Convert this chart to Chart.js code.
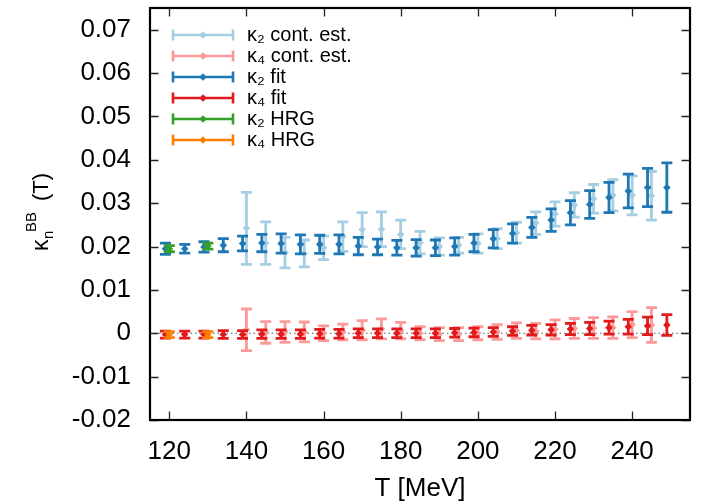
<!DOCTYPE html>
<html>
<head>
<meta charset="utf-8">
<script src="https://cdn.jsdelivr.net/npm/chart.js@4.4.1/dist/chart.umd.min.js"></script>
<style>
  html, body { margin: 0; padding: 0; background: #ffffff; }
  #wrap { width: 708px; height: 502px; }
</style>
</head>
<body>
<div id="wrap"><canvas id="c" width="708" height="502"></canvas></div>
<script>
// ---------------- data ----------------
const seriesLabels = ['κ₂ cont. est.', 'κ₄ cont. est.', 'κ₂ fit', 'κ₄ fit', 'κ₂ HRG', 'κ₄ HRG'];

const T_cont = [140, 145, 150, 155, 160, 165, 170, 175, 180, 185, 190, 195, 200, 205, 210, 215, 220, 225, 230, 235, 240, 245];
const k2Cont = [0.0242, 0.0208, 0.0186, 0.0184, 0.0197, 0.0223, 0.0239, 0.0240, 0.0228, 0.0209, 0.0200, 0.0203, 0.0207, 0.0218, 0.0232, 0.0254, 0.0275, 0.0296, 0.0310, 0.0318, 0.0318, 0.0317];
const k2ContErr = [0.0083, 0.0049, 0.0035, 0.0031, 0.0027, 0.0034, 0.0039, 0.0040, 0.0033, 0.0026, 0.0020, 0.0018, 0.0022, 0.0023, 0.0024, 0.0026, 0.0028, 0.0028, 0.0033, 0.0036, 0.0045, 0.0056];
const k4Cont = [0.0008, 0.0002, 0.0003, 0.0003, 0.0000, 0.0003, 0.0007, 0.0010, 0.0006, 0.0000, -0.0002, -0.0002, 0.0000, 0.0003, 0.0006, 0.0005, 0.0009, 0.0011, 0.0012, 0.0013, 0.0020, 0.0019];
const k4ContErr = [0.0048, 0.0025, 0.0024, 0.0023, 0.0017, 0.0018, 0.0022, 0.0023, 0.0019, 0.0015, 0.0015, 0.0015, 0.0015, 0.0017, 0.0018, 0.0018, 0.0022, 0.0023, 0.0024, 0.0025, 0.0030, 0.0040];

const T_fit = [119, 124, 129, 134, 139, 144, 149, 154, 159, 164, 169, 174, 179, 184, 189, 194, 199, 204, 209, 214, 219, 224, 229, 234, 239, 244, 249];
const k2Fit = [0.0195, 0.0195, 0.0199, 0.0203, 0.0207, 0.0208, 0.0207, 0.0205, 0.0205, 0.0205, 0.0201, 0.0199, 0.0197, 0.0197, 0.0197, 0.0200, 0.0208, 0.0218, 0.0230, 0.0244, 0.0261, 0.0278, 0.0297, 0.0313, 0.0328, 0.0336, 0.0336];
const k2FitErr = [0.0013, 0.0010, 0.0012, 0.0015, 0.0017, 0.0020, 0.0022, 0.0022, 0.0021, 0.0022, 0.0020, 0.0018, 0.0017, 0.0019, 0.0018, 0.0020, 0.0020, 0.0021, 0.0022, 0.0023, 0.0026, 0.0028, 0.0032, 0.0035, 0.0039, 0.0044, 0.0057];
const k4Fit = [-0.0003, -0.0003, -0.0003, -0.0003, -0.0003, -0.0002, -0.0002, -0.0002, -0.0001, -0.0001, 0.0000, 0.0000, 0.0000, 0.0000, 0.0000, 0.0001, 0.0002, 0.0003, 0.0005, 0.0007, 0.0008, 0.0010, 0.0011, 0.0013, 0.0015, 0.0017, 0.0019];
const k4FitErr = [0.0008, 0.0008, 0.0008, 0.0009, 0.0009, 0.0010, 0.0010, 0.0010, 0.0010, 0.0010, 0.0010, 0.0010, 0.0010, 0.0010, 0.0010, 0.0010, 0.0010, 0.0010, 0.0010, 0.0011, 0.0012, 0.0013, 0.0014, 0.0015, 0.0017, 0.0020, 0.0024];

const T_hrg = [120, 130];
const k2Hrg = [0.0195, 0.0201];
const k2HrgErr = [0.0007, 0.0007];
const k4Hrg = [-0.0003, -0.0003];
const k4HrgErr = [0.0007, 0.0007];

const xTickValues = [120, 140, 160, 180, 200, 220, 240];
const yTickValues = [-0.02, -0.01, 0, 0.01, 0.02, 0.03, 0.04, 0.05, 0.06, 0.07];
const yTickLabels = ['-0.02', '-0.01', '0', '0.01', '0.02', '0.03', '0.04', '0.05', '0.06', '0.07'];

// ---------------- styling ----------------
const COLORS = ['#a6cee3', '#fb9a99', '#1f78b4', '#e31a1c', '#33a02c', '#ff7f00'];
const FONT = "'Liberation Sans', Arial, Helvetica, sans-serif";
Chart.defaults.font.family = FONT;
Chart.defaults.color = '#000';

function pts(xs, ys) { return xs.map((x, i) => ({ x: x, y: ys[i] })); }

function makeDataset(idx, xs, ys, errs, order) {
  return {
    label: seriesLabels[idx],
    data: pts(xs, ys),
    errors: errs,
    barColor: COLORS[idx],
    showLine: false,
    pointStyle: 'rectRot',
    pointRadius: 3.8,
    pointHoverRadius: 3.8,
    pointBorderWidth: 0,
    backgroundColor: COLORS[idx],
    borderColor: COLORS[idx],
    order: order
  };
}

// legend symbol: error bar with a diamond
function legendSymbol(color) {
  const c = document.createElement('canvas');
  c.width = 74; c.height = 14;
  const g = c.getContext('2d');
  g.strokeStyle = color; g.fillStyle = color; g.lineWidth = 2.6;
  g.beginPath();
  g.moveTo(10, 7); g.lineTo(70, 7);
  g.moveTo(10, 1.5); g.lineTo(10, 12.5);
  g.moveTo(70, 1.5); g.lineTo(70, 12.5);
  g.stroke();
  g.beginPath();
  g.moveTo(40, 3.2); g.lineTo(43.8, 7); g.lineTo(40, 10.8); g.lineTo(36.2, 7); g.closePath();
  g.fill();
  return c;
}

// ---------------- plugins ----------------
const errorBars = {
  id: 'errorBars',
  beforeDatasetDraw(chart, args) {
    const ds = chart.data.datasets[args.index];
    if (!ds.errors) return;
    const xs = chart.scales.x, ys = chart.scales.y, ctx = chart.ctx, a = chart.chartArea;
    ctx.save();
    ctx.beginPath(); ctx.rect(a.left, a.top, a.right - a.left, a.bottom - a.top); ctx.clip();
    ctx.strokeStyle = ds.barColor; ctx.lineWidth = 2.8; ctx.lineCap = 'butt';
    ds.data.forEach((p, i) => {
      const px = xs.getPixelForValue(p.x);
      const y1 = ys.getPixelForValue(p.y - ds.errors[i]);
      const y2 = ys.getPixelForValue(p.y + ds.errors[i]);
      ctx.beginPath();
      ctx.moveTo(px, y1); ctx.lineTo(px, y2);
      ctx.moveTo(px - 5.5, y1); ctx.lineTo(px + 5.5, y1);
      ctx.moveTo(px - 5.5, y2); ctx.lineTo(px + 5.5, y2);
      ctx.stroke();
    });
    ctx.restore();
  }
};

const frameAndTicks = {
  id: 'frameAndTicks',
  beforeDatasetsDraw(chart) {
    const ctx = chart.ctx, a = chart.chartArea, ys = chart.scales.y;
    const y0 = ys.getPixelForValue(0);
    ctx.save();
    ctx.strokeStyle = '#555'; ctx.lineWidth = 1.2; ctx.setLineDash([1.5, 3]);
    ctx.beginPath(); ctx.moveTo(a.left, y0); ctx.lineTo(a.right, y0); ctx.stroke();
    ctx.restore();
  },
  afterDraw(chart) {
    const ctx = chart.ctx, a = chart.chartArea, xs = chart.scales.x, ys = chart.scales.y;
    const L = 8.5;
    ctx.save();
    ctx.strokeStyle = '#222'; ctx.lineWidth = 1.3;
    ctx.beginPath();
    xTickValues.forEach(v => {
      const px = Math.round(xs.getPixelForValue(v)) + 0.5;
      ctx.moveTo(px, a.bottom); ctx.lineTo(px, a.bottom - L);
      ctx.moveTo(px, a.top); ctx.lineTo(px, a.top + L);
    });
    yTickValues.forEach(v => {
      const py = Math.round(ys.getPixelForValue(v)) + 0.5;
      ctx.moveTo(a.left, py); ctx.lineTo(a.left + L, py);
      ctx.moveTo(a.right, py); ctx.lineTo(a.right - L, py);
    });
    ctx.stroke();
    ctx.strokeStyle = '#000'; ctx.lineWidth = 2.2;
    ctx.strokeRect(a.left, a.top, a.right - a.left, a.bottom - a.top);
    ctx.restore();

    // y-axis title: kappa_n^{BB}(T)
    ctx.save();
    ctx.translate(48, 251);
    ctx.rotate(-Math.PI / 2);
    ctx.fillStyle = '#000';
    ctx.textBaseline = 'alphabetic';
    ctx.textAlign = 'left';
    ctx.font = "23px " + FONT;
    ctx.fillText('κ', 0, 0);
    ctx.font = "15px " + FONT;
    ctx.fillText('n', 12, 5);
    ctx.font = "15px " + FONT;
    ctx.fillText('BB', 19, -12);
    ctx.font = "22px " + FONT;
    ctx.fillText('(T)', 50, 0);
    ctx.restore();
  }
};

const legendPlacer = {
  id: 'legendPlacer',
  afterLayout(chart) {
    const lg = chart.legend;
    if (!lg) return;
    lg.left = chart.chartArea.left + 12;
    lg.top = chart.chartArea.top + 16;
    lg.bottom = chart.chartArea.bottom;
    lg.right = chart.chartArea.right;
  }
};

// ---------------- chart ----------------
const datasets = [
  makeDataset(0, T_cont, k2Cont, k2ContErr, 3),
  makeDataset(1, T_cont, k4Cont, k4ContErr, 3),
  makeDataset(2, T_fit, k2Fit, k2FitErr, 2),
  makeDataset(3, T_fit, k4Fit, k4FitErr, 2),
  makeDataset(4, T_hrg, k2Hrg, k2HrgErr, 1),
  makeDataset(5, T_hrg, k4Hrg, k4HrgErr, 1)
];

new Chart(document.getElementById('c'), {
  type: 'scatter',
  data: { datasets: datasets },
  options: {
    responsive: false,
    animation: false,
    events: [],
    layout: { padding: { left: 0, right: 18, top: 8, bottom: 0 } },
    scales: {
      x: {
        type: 'linear',
        min: 115, max: 255,
        grid: { display: false, drawTicks: false },
        border: { display: false },
        afterBuildTicks: s => { s.ticks = xTickValues.map(v => ({ value: v })); },
        afterFit: s => { s.height = 82; s.paddingLeft = 0; s.paddingRight = 0; },
        ticks: { font: { size: 26, lineHeight: 1.2 }, color: '#000', padding: 16, maxRotation: 0, callback: v => String(v) },
        title: { display: true, text: 'T [MeV]', font: { size: 26, lineHeight: 1.0 }, color: '#000', padding: { top: 0, bottom: 0 } }
      },
      y: {
        type: 'linear',
        min: -0.02, max: 0.075,
        grid: { display: false, drawTicks: false },
        border: { display: false },
        afterBuildTicks: s => { s.ticks = yTickValues.map(v => ({ value: v })); },
        afterFit: s => { s.width = 150; s.paddingTop = 0; s.paddingBottom = 0; },
        ticks: {
          font: { size: 26 }, color: '#000', padding: 19,
          callback: v => { const i = yTickValues.indexOf(v); return i >= 0 ? yTickLabels[i] : ''; }
        }
      }
    },
    plugins: {
      tooltip: { enabled: false },
      legend: {
        position: 'chartArea',
        align: 'start',
        labels: {
          usePointStyle: true,
          pointStyleWidth: 74,
          padding: 1,
          color: '#000',
          font: { size: 20 },
          generateLabels: chart => chart.data.datasets.map((ds, i) => ({
            text: ds.label,
            pointStyle: legendSymbol(COLORS[i]),
            fillStyle: COLORS[i],
            strokeStyle: COLORS[i],
            lineWidth: 0,
            hidden: false,
            fontColor: '#000',
            datasetIndex: i
          }))
        }
      }
    }
  },
  plugins: [errorBars, frameAndTicks, legendPlacer]
});
</script>
</body>
</html>
